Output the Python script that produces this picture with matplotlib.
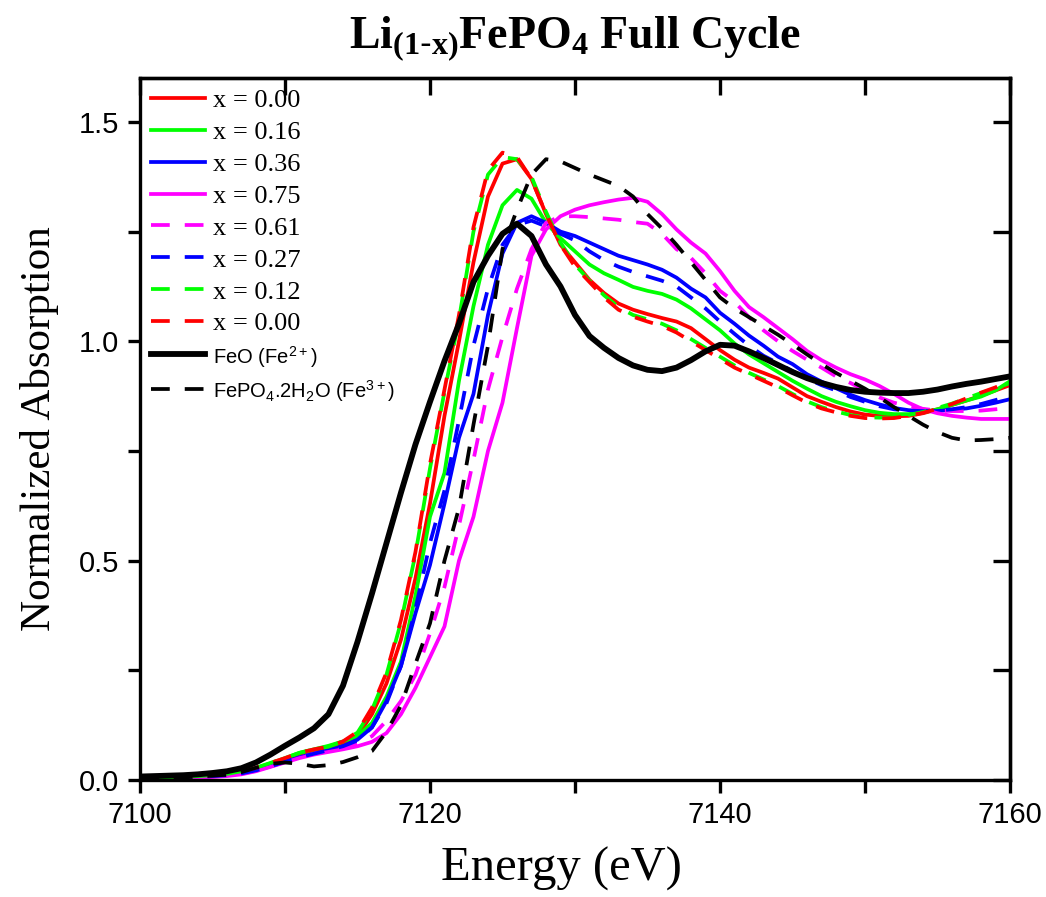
import numpy as np
import matplotlib
matplotlib.use('Agg')
from matplotlib import pyplot as plt
from matplotlib.ticker import MultipleLocator, FormatStrFormatter

plt.rcParams['mathtext.default'] = 'regular'

energy = np.arange(7100, 7161)

# Li(1-x)FePO4 samples, solid = charge, dashed = discharge
red_solid = [0.004, 0.005, 0.006, 0.007, 0.008, 0.010, 0.013, 0.018, 0.026, 0.036,
             0.048, 0.060, 0.068, 0.074, 0.082, 0.100, 0.150, 0.220, 0.320, 0.460,
             0.630, 0.830, 1.000, 1.180, 1.330, 1.405, 1.415, 1.370, 1.290, 1.220,
             1.180, 1.140, 1.110, 1.086, 1.072, 1.062, 1.053, 1.045, 1.030, 1.005,
             0.980, 0.958, 0.940, 0.928, 0.915, 0.895, 0.875, 0.862, 0.850, 0.840,
             0.833, 0.830, 0.829, 0.830, 0.836, 0.845, 0.855, 0.865, 0.876, 0.888,
             0.900]
green_solid = [0.004, 0.005, 0.006, 0.007, 0.009, 0.011, 0.014, 0.019, 0.027, 0.038,
               0.050, 0.062, 0.070, 0.078, 0.088, 0.100, 0.130, 0.190, 0.270, 0.420,
               0.600, 0.700, 0.910, 1.080, 1.220, 1.310, 1.345, 1.325, 1.270, 1.235,
               1.205, 1.175, 1.155, 1.140, 1.124, 1.115, 1.108, 1.095, 1.075, 1.050,
               1.025, 0.995, 0.970, 0.950, 0.930, 0.910, 0.892, 0.875, 0.862, 0.852,
               0.843, 0.837, 0.834, 0.834, 0.838, 0.845, 0.855, 0.865, 0.874, 0.888,
               0.909]
blue_solid = [0.003, 0.004, 0.005, 0.006, 0.007, 0.009, 0.011, 0.015, 0.022, 0.031,
              0.042, 0.052, 0.060, 0.068, 0.077, 0.092, 0.120, 0.180, 0.260, 0.380,
              0.490, 0.630, 0.780, 0.880, 1.060, 1.200, 1.270, 1.285, 1.270, 1.250,
              1.240, 1.225, 1.210, 1.195, 1.185, 1.175, 1.163, 1.145, 1.120, 1.100,
              1.065, 1.040, 1.013, 0.990, 0.965, 0.948, 0.925, 0.908, 0.893, 0.878,
              0.866, 0.856, 0.848, 0.843, 0.841, 0.841, 0.844, 0.847, 0.853, 0.860,
              0.868]
magenta_solid = [0.002, 0.003, 0.004, 0.004, 0.005, 0.007, 0.009, 0.013, 0.020, 0.030,
                 0.040, 0.050, 0.058, 0.064, 0.070, 0.077, 0.087, 0.107, 0.150, 0.210,
                 0.280, 0.350, 0.500, 0.600, 0.750, 0.860, 1.030, 1.195, 1.255, 1.285,
                 1.300, 1.310, 1.317, 1.323, 1.327, 1.318, 1.290, 1.255, 1.225, 1.200,
                 1.160, 1.115, 1.078, 1.055, 1.030, 1.005, 0.978, 0.957, 0.940, 0.925,
                 0.913, 0.898, 0.880, 0.860, 0.845, 0.836, 0.830, 0.826, 0.823, 0.823,
                 0.823]
magenta_dash = [0.002, 0.003, 0.004, 0.005, 0.006, 0.008, 0.010, 0.014, 0.021, 0.031,
                0.041, 0.051, 0.060, 0.066, 0.073, 0.082, 0.100, 0.135, 0.180, 0.240,
                0.334, 0.440, 0.580, 0.730, 0.890, 1.010, 1.120, 1.210, 1.270, 1.285,
                1.285, 1.283, 1.280, 1.277, 1.272, 1.268, 1.245, 1.210, 1.190, 1.155,
                1.115, 1.090, 1.055, 1.025, 1.000, 0.978, 0.958, 0.940, 0.920, 0.905,
                0.888, 0.872, 0.860, 0.852, 0.846, 0.842, 0.841, 0.841, 0.842, 0.845,
                0.848]
blue_dash = [0.003, 0.004, 0.005, 0.006, 0.007, 0.009, 0.011, 0.015, 0.022, 0.031,
             0.042, 0.052, 0.060, 0.068, 0.077, 0.090, 0.120, 0.175, 0.260, 0.390,
             0.540, 0.660, 0.820, 0.990, 1.120, 1.220, 1.265, 1.275, 1.262, 1.245,
             1.230, 1.205, 1.185, 1.170, 1.158, 1.148, 1.138, 1.125, 1.100, 1.075,
             1.045, 1.017, 0.990, 0.967, 0.950, 0.932, 0.915, 0.900, 0.888, 0.873,
             0.862, 0.852, 0.845, 0.842, 0.841, 0.842, 0.845, 0.850, 0.857, 0.866,
             0.875]
green_dash = [0.004, 0.005, 0.006, 0.007, 0.009, 0.011, 0.014, 0.020, 0.028, 0.039,
              0.050, 0.062, 0.070, 0.076, 0.088, 0.108, 0.160, 0.240, 0.360, 0.515,
              0.710, 0.885, 1.050, 1.250, 1.380, 1.420, 1.415, 1.375, 1.295, 1.225,
              1.175, 1.138, 1.105, 1.078, 1.060, 1.050, 1.040, 1.025, 1.005, 0.985,
              0.965, 0.945, 0.928, 0.913, 0.898, 0.880, 0.863, 0.850, 0.840, 0.832,
              0.827, 0.826, 0.827, 0.832, 0.839, 0.848, 0.858, 0.870, 0.882, 0.893,
              0.905]
red_dash = [0.004, 0.005, 0.006, 0.007, 0.009, 0.011, 0.014, 0.020, 0.028, 0.039,
            0.050, 0.062, 0.070, 0.076, 0.088, 0.110, 0.165, 0.245, 0.365, 0.520,
            0.720, 0.890, 1.060, 1.260, 1.390, 1.430, 1.420, 1.370, 1.290, 1.220,
            1.170, 1.135, 1.100, 1.072, 1.056, 1.045, 1.035, 1.020, 1.000, 0.980,
            0.960, 0.940, 0.925, 0.910, 0.895, 0.877, 0.860, 0.847, 0.838, 0.830,
            0.825, 0.824, 0.825, 0.830, 0.837, 0.846, 0.857, 0.870, 0.883, 0.895,
            0.910]

# reference compounds
feo = [0.008, 0.009, 0.010, 0.011, 0.013, 0.016, 0.020, 0.027, 0.040, 0.058,
       0.078, 0.097, 0.118, 0.150, 0.215, 0.315, 0.425, 0.540, 0.655, 0.765,
       0.862, 0.955, 1.040, 1.135, 1.195, 1.245, 1.268, 1.240, 1.175, 1.125,
       1.060, 1.012, 0.985, 0.962, 0.945, 0.935, 0.932, 0.940, 0.957, 0.977,
       0.992, 0.990, 0.977, 0.962, 0.946, 0.930, 0.916, 0.905, 0.896, 0.889,
       0.885, 0.883, 0.882, 0.882, 0.885, 0.890, 0.897, 0.903, 0.908, 0.914,
       0.920]
fepo4 = [0.004, 0.005, 0.005, 0.006, 0.008, 0.010, 0.012, 0.018, 0.028, 0.037,
         0.040, 0.037, 0.031, 0.034, 0.041, 0.052, 0.066, 0.110, 0.170, 0.265,
         0.357, 0.500, 0.620, 0.810, 0.990, 1.210, 1.300, 1.380, 1.415, 1.410,
         1.395, 1.380, 1.367, 1.354, 1.330, 1.290, 1.257, 1.220, 1.180, 1.140,
         1.100, 1.075, 1.055, 1.035, 1.015, 0.993, 0.970, 0.948, 0.928, 0.910,
         0.892, 0.872, 0.850, 0.830, 0.810, 0.793, 0.780, 0.774, 0.775, 0.777,
         0.780]

sample_labels = ['x = 0.00', 'x = 0.16', 'x = 0.36', 'x = 0.75',
                 'x = 0.61', 'x = 0.27', 'x = 0.12', 'x = 0.00']
ref_labels = ['FeO (Fe$^{2+}$)', 'FePO$_4$.2H$_2$O (Fe$^{3+}$)']

fig = plt.figure(figsize=(10.46, 8.97), dpi=100)
ax = fig.add_axes([0.1338, 0.1304, 0.8318, 0.7826])

lw = 2.7
dash = (0, (5, 4))
ax.plot(energy, red_solid, color='#ff0000', lw=lw, label=sample_labels[0])
ax.plot(energy, green_solid, color='#00ff00', lw=lw, label=sample_labels[1])
ax.plot(energy, blue_solid, color='#0000ff', lw=lw, label=sample_labels[2])
ax.plot(energy, magenta_solid, color='#ff00ff', lw=lw, label=sample_labels[3])
ax.plot(energy, magenta_dash, color='#ff00ff', lw=lw, ls=dash, label=sample_labels[4])
ax.plot(energy, blue_dash, color='#0000ff', lw=lw, ls=dash, label=sample_labels[5])
ax.plot(energy, green_dash, color='#00ff00', lw=lw, ls=(4, (5, 4)), label=sample_labels[6])
ax.plot(energy, red_dash, color='#ff0000', lw=lw, ls=dash, label=sample_labels[7])
ax.plot(energy, feo, color='black', lw=4.2, label=ref_labels[0])
ax.plot(energy, fepo4, color='black', lw=lw, ls=dash, label=ref_labels[1])

ax.set_xlim(7100, 7160)
ax.set_ylim(0, 1.6)
ax.xaxis.set_major_locator(MultipleLocator(20))
ax.xaxis.set_minor_locator(MultipleLocator(10))
ax.yaxis.set_major_locator(MultipleLocator(0.5))
ax.yaxis.set_minor_locator(MultipleLocator(0.25))
ax.yaxis.set_major_formatter(FormatStrFormatter('%.1f'))

for s in ax.spines.values():
    s.set_linewidth(2.4)
ax.tick_params(which='both', width=2.4, labelsize=21, pad=6, direction='out',
               top=False, right=False)
ax.tick_params(which='major', length=9)
ax.tick_params(which='minor', length=9)
for lab in ax.get_xticklabels() + ax.get_yticklabels():
    lab.set_family('Liberation Sans')

# inward ticks on the top and right edges
top = ax.secondary_xaxis('top')
top.xaxis.set_major_locator(MultipleLocator(10))
top.tick_params(direction='in', length=12, width=2.4, labeltop=False)
right = ax.secondary_yaxis('right')
right.yaxis.set_major_locator(MultipleLocator(0.25))
right.tick_params(direction='in', length=12, width=2.4, labelright=False)
for sec in (top, right):
    for s in sec.spines.values():
        s.set_linewidth(2.4)

ax.set_xlabel('Energy (eV)', family='Liberation Serif', fontsize=35, labelpad=20)
ax.xaxis.set_label_coords(0.485, -0.095)
ax.set_ylabel('Normalized Absorption', family='Liberation Serif', fontsize=31, labelpad=14)
ax.set_title(r'Li$_{(1\text{-}x)}$FePO$_4$ Full Cycle', family='Liberation Serif',
             fontweight='bold', fontsize=33, pad=22)

leg = ax.legend(loc='upper left', frameon=False, prop={'family': 'Liberation Serif', 'size': 19},
                handlelength=2.05, handletextpad=0.3, labelspacing=0.32,
                borderaxespad=0.05, borderpad=0.35)
leg.get_lines()[6].set_linestyle(dash)
for txt in leg.get_texts()[8:]:
    txt.set_family('Liberation Sans')
    txt.set_fontsize(14.5)

fig.savefig('out.png', dpi=100)
